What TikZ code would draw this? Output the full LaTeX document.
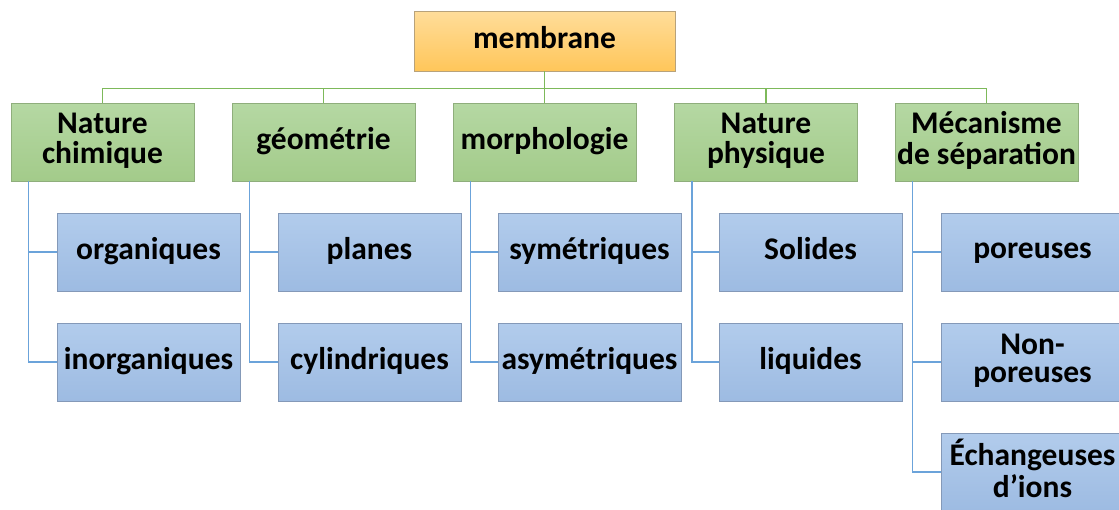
\documentclass[tikz,border=0pt]{standalone}
\usepackage{fontspec}
\setmainfont{Carlito}
\newcommand\stt{\rule[-7.6pt]{0pt}{28pt}}
\begin{document}
\begin{tikzpicture}[x=1pt,y=1pt,
  base/.style={rectangle, inner sep=0pt, align=center,
    font=\fontsize{31.5}{28}\selectfont\bfseries, line width=0.8pt},
  topbox/.style={base, minimum width=261pt, minimum height=60pt,
    top color=orangeA, bottom color=orangeB, draw=orangeD},
  catbox/.style={base, minimum width=183pt, minimum height=78pt,
    top color=greenA, bottom color=greenB, draw=greenD},
  leafbox/.style={base, minimum width=183pt, minimum height=78pt,
    top color=blueA, bottom color=blueB, draw=blueD},
  gline/.style={draw=greenL, line width=1.5pt},
  bline/.style={draw=blueL, line width=1.5pt}
]
\definecolor{orangeA}{HTML}{FFDD9A}
\definecolor{orangeB}{HTML}{FFC65A}
\definecolor{orangeD}{HTML}{B8A27A}
\definecolor{greenA}{HTML}{B5D8A3}
\definecolor{greenB}{HTML}{A3CB8A}
\definecolor{greenD}{HTML}{8FAE7C}
\definecolor{blueA}{HTML}{B2CCEC}
\definecolor{blueB}{HTML}{9DBBE2}
\definecolor{blueD}{HTML}{8499B8}
\definecolor{greenL}{HTML}{7DB95A}
\definecolor{blueL}{HTML}{6BA3DA}
\useasboundingbox (0,0) rectangle (1119,-509);
\clip (0,0) rectangle (1119,-509);

\node[topbox] (m) at (544.5,-41) {\stt membrane};

\node[catbox] (c1) at (102.5,-142) {\stt Nature\\\stt chimique};
\node[catbox] (c2) at (323.5,-142) {\stt géométrie};
\node[catbox] (c3) at (544.5,-142) {\stt morphologie};
\node[catbox] (c4) at (766,-142) {\stt Nature\\\stt physique};
\node[catbox] (c5) at (986.5,-142) {\stt Mécanisme\\\stt de séparation};

\node[leafbox] (l11) at (148.5,-252) {\stt organiques};
\node[leafbox] (l12) at (148.5,-362) {\stt inorganiques};
\node[leafbox] (l21) at (369.5,-252) {\stt planes};
\node[leafbox] (l22) at (369.5,-362) {\stt cylindriques};
\node[leafbox] (l31) at (589.5,-252) {\stt symétriques};
\node[leafbox] (l32) at (589.5,-362) {\stt asymétriques};
\node[leafbox] (l41) at (810.5,-252) {\stt Solides};
\node[leafbox] (l42) at (810.5,-362) {\stt liquides};
\node[leafbox] (l51) at (1032.5,-252) {\stt poreuses};
\node[leafbox] (l52) at (1032.5,-362) {\stt Non-\\\stt poreuses};
\node[leafbox] (l53) at (1032.5,-472) {\stt Échangeuses\\\stt d’ions};

\foreach \c in {c1,c2,c3,c4,c5}
  \draw[gline] (m.south) -- ++(0,-17) -| (\c.north);

\foreach \p/\c in {c1/l11,c1/l12,c2/l21,c2/l22,c3/l31,c3/l32,c4/l41,c4/l42,c5/l51,c5/l52,c5/l53}
  \draw[bline] (\p.south west) ++(18,0) |- (\c.west);
\end{tikzpicture}
\end{document}
